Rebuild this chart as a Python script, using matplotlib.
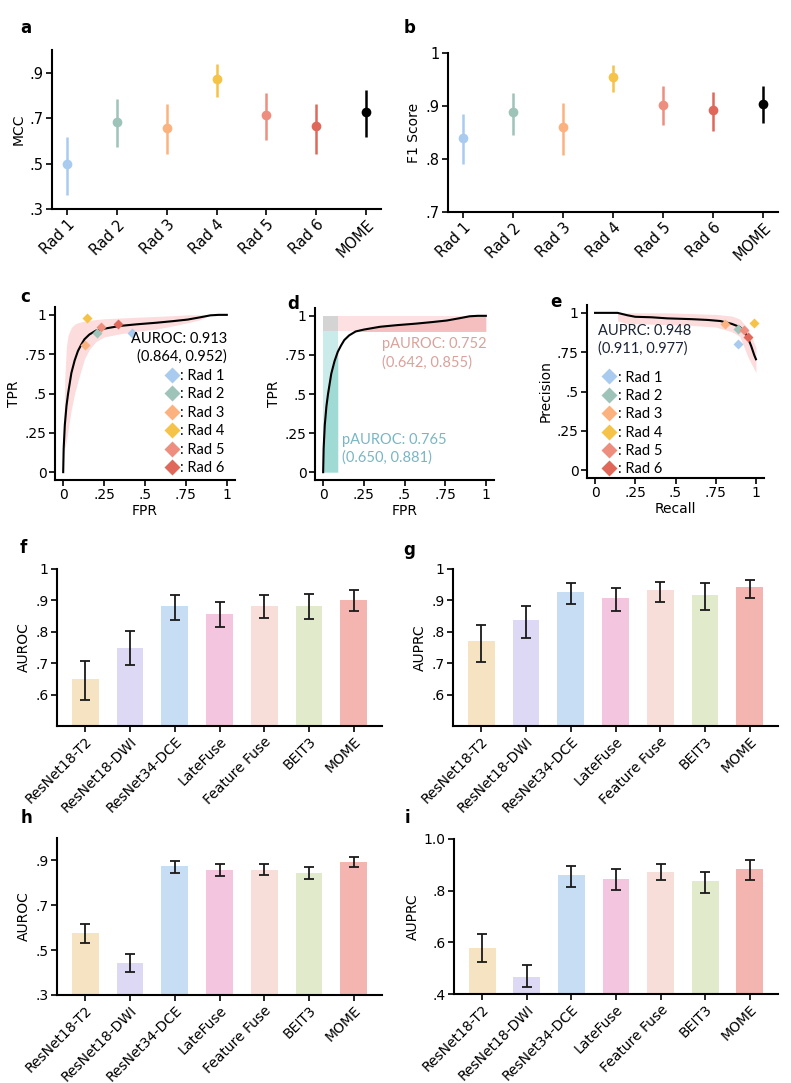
import matplotlib.pyplot as plt
import numpy as np
from matplotlib.ticker import FuncFormatter
from matplotlib.lines import Line2D

W, H = 791, 1083

# panel a / b : reader study
rads = ['Rad 1', 'Rad 2', 'Rad 3', 'Rad 4', 'Rad 5', 'Rad 6', 'MOME']
rad_colors = ['#a9cbef', '#9ec3b9', '#fbb27e', '#f5c347', '#ee8e7e', '#e0685a', '#000000']

mcc = [0.497, 0.685, 0.656, 0.873, 0.712, 0.664, 0.728]
mcc_lo = [0.362, 0.572, 0.543, 0.792, 0.604, 0.544, 0.619]
mcc_hi = [0.619, 0.784, 0.761, 0.939, 0.811, 0.761, 0.824]

f1 = [0.840, 0.888, 0.860, 0.955, 0.902, 0.892, 0.904]
f1_lo = [0.790, 0.845, 0.808, 0.927, 0.864, 0.853, 0.868]
f1_hi = [0.885, 0.925, 0.905, 0.977, 0.938, 0.926, 0.938]

# panel c / d : ROC of MOME + readers
roc_fpr = [0, 0.003, 0.01, 0.02, 0.03, 0.05, 0.07, 0.09, 0.11, 0.13, 0.16, 0.2, 0.25, 0.35, 0.45, 0.57, 0.67, 0.76, 0.84, 0.9, 0.95, 1.0]
roc_tpr = [0, 0.15, 0.3, 0.42, 0.5, 0.63, 0.71, 0.77, 0.81, 0.845, 0.875, 0.9, 0.912, 0.93, 0.94, 0.95, 0.96, 0.97, 0.985, 0.997, 1.0, 1.0]
roc_band_fpr = [0.005, 0.01, 0.02, 0.03, 0.05, 0.07, 0.09, 0.11, 0.13, 0.16, 0.2, 0.25, 0.35, 0.45, 0.57, 0.67, 0.76, 0.84, 0.9]
roc_band_lo = [0.13, 0.15, 0.2, 0.27, 0.4, 0.5, 0.58, 0.65, 0.72, 0.78, 0.83, 0.86, 0.88, 0.895, 0.91, 0.93, 0.95, 0.97, 1.0]
roc_band_hi = [0.3, 0.6, 0.8, 0.87, 0.92, 0.94, 0.95, 0.955, 0.96, 0.965, 0.97, 0.975, 0.98, 0.985, 0.99, 0.995, 1.0, 1.0, 1.0]
rad_fpr = [0.42, 0.207, 0.131, 0.147, 0.233, 0.334]
rad_tpr = [0.885, 0.883, 0.806, 0.983, 0.921, 0.945]

# panel e : PR curve
pr_rec = [0, 0.14, 0.2, 0.25, 0.35, 0.45, 0.6, 0.7, 0.78, 0.85, 0.9, 0.93, 0.95, 0.97, 0.99, 1.0]
pr_prec = [1, 1, 0.985, 0.975, 0.972, 0.965, 0.96, 0.955, 0.948, 0.93, 0.91, 0.88, 0.84, 0.79, 0.73, 0.705]
pr_band_rec = [0.14, 0.2, 0.3, 0.45, 0.6, 0.75, 0.85, 0.9, 0.95, 1.0]
pr_band_lo = [0.95, 0.93, 0.93, 0.925, 0.92, 0.91, 0.88, 0.85, 0.72, 0.62]
pr_band_hi = [1.0, 1.0, 1.0, 1.0, 0.995, 0.99, 0.98, 0.96, 0.9, 0.78]
rad_rec = [0.887, 0.887, 0.809, 0.985, 0.926, 0.948]
rad_prec = [0.804, 0.898, 0.927, 0.933, 0.889, 0.848]

# panel f-i : model comparison
models = ['ResNet18-T2', 'ResNet18-DWI', 'ResNet34-DCE', 'LateFuse', 'Feature Fuse', 'BEIT3', 'MOME']
bar_colors = ['#f5e3c1', '#ddd9f4', '#c7ddf3', '#f4c5df', '#f8ded8', '#e1eacb', '#f4b5b0']

f_auroc = [0.649, 0.748, 0.882, 0.857, 0.882, 0.882, 0.901]
f_lo = [0.584, 0.693, 0.838, 0.815, 0.845, 0.841, 0.865]
f_hi = [0.707, 0.802, 0.916, 0.896, 0.916, 0.920, 0.934]

g_auprc = [0.770, 0.837, 0.926, 0.907, 0.932, 0.916, 0.942]
g_lo = [0.704, 0.781, 0.890, 0.867, 0.895, 0.868, 0.909]
g_hi = [0.823, 0.882, 0.955, 0.940, 0.958, 0.955, 0.964]

h_auroc = [0.576, 0.443, 0.873, 0.859, 0.859, 0.846, 0.895]
h_lo = [0.534, 0.401, 0.846, 0.829, 0.834, 0.815, 0.870]
h_hi = [0.615, 0.483, 0.897, 0.883, 0.886, 0.870, 0.914]

i_auprc = [0.578, 0.465, 0.859, 0.847, 0.874, 0.836, 0.882]
i_lo = [0.524, 0.426, 0.815, 0.804, 0.840, 0.792, 0.840]
i_hi = [0.631, 0.512, 0.895, 0.883, 0.904, 0.873, 0.918]

ANN = ['Lato', 'DejaVu Sans']


def nolead(v, pos=None):
    s = f"{v:g}"
    if s.startswith("0."):
        s = s[1:]
    return s


def add_ax(fig, l, r, b, t):
    return fig.add_axes([l / W, 1 - b / H, (r - l) / W, (b - t) / H])


def style(ax, fs=10):
    for s in ['top', 'right']:
        ax.spines[s].set_visible(False)
    for s in ['left', 'bottom']:
        ax.spines[s].set_linewidth(1.5)
    ax.tick_params(width=1.2, length=4, labelsize=fs, pad=2)


def dot_panel(ax, vals, lo, hi, ylim, ticks, ylabel):
    x = np.arange(len(rads))
    for k in range(len(rads)):
        ax.plot([x[k], x[k]], [lo[k], hi[k]], color=rad_colors[k], lw=1.8, solid_capstyle='butt')
        ax.plot(x[k], vals[k], 'o', color=rad_colors[k], ms=7, mec='none')
    ax.set_xlim(-0.3, 6.3)
    ax.set_ylim(*ylim)
    ax.set_yticks(ticks)
    ax.yaxis.set_major_formatter(FuncFormatter(nolead))
    ax.set_xticks(x)
    ax.set_xticklabels(rads, rotation=45, ha='right', rotation_mode='anchor')
    ax.set_ylabel(ylabel, fontsize=10, labelpad=3)
    style(ax, 10.5)


def bar_panel(ax, vals, lo, hi, ylim, ticks, ylabel, fmt=nolead):
    x = np.arange(len(models))
    vals = np.array(vals)
    ax.bar(x, vals, width=0.6, color=bar_colors)
    ax.errorbar(x, vals, yerr=[vals - np.array(lo), np.array(hi) - vals], fmt='none',
                ecolor='#1a1a1a', elinewidth=1.3, capsize=3.5, capthick=1.3)
    ax.set_xlim(-0.63, 6.63)
    ax.set_ylim(*ylim)
    ax.set_yticks(ticks)
    ax.yaxis.set_major_formatter(FuncFormatter(fmt))
    ax.set_xticks(x)
    ax.set_xticklabels(models, rotation=45, ha='right', rotation_mode='anchor')
    ax.set_ylabel(ylabel, fontsize=10, labelpad=3)
    style(ax, 10)


def quarter_axes(ax, xlabel, ylabel):
    q_ticks = [0, 0.25, 0.5, 0.75, 1]
    ax.set_xlim(-0.05, 1.05)
    ax.set_ylim(-0.05, 1.05)
    ax.set_xticks(q_ticks)
    ax.set_yticks(q_ticks)
    ax.xaxis.set_major_formatter(FuncFormatter(nolead))
    ax.yaxis.set_major_formatter(FuncFormatter(nolead))
    ax.set_xlabel(xlabel, fontsize=10, labelpad=1)
    ax.set_ylabel(ylabel, fontsize=10, labelpad=3)
    style(ax, 10)


fig = plt.figure(figsize=(W / 100, H / 100), dpi=100)

# a
ax = add_ax(fig, 52, 381, 209, 50)
dot_panel(ax, mcc, mcc_lo, mcc_hi, (0.3, 1.0), [0.3, 0.5, 0.7, 0.9], 'MCC')
# b
ax = add_ax(fig, 448, 778, 212, 53)
dot_panel(ax, f1, f1_lo, f1_hi, (0.7, 1.0), [0.7, 0.8, 0.9, 1.0], 'F1 Score')

handles = [Line2D([], [], ls='none', marker='D', color=rad_colors[k], ms=8.5, mec='none') for k in range(6)]
leg_kw = dict(frameon=False, handletextpad=0.0, handlelength=1.2, labelspacing=0.3,
              borderpad=0.2, prop={'family': ANN, 'size': 10.5})

# c
ax = add_ax(fig, 55, 235, 480, 307)
ax.fill_between(roc_band_fpr, roc_band_lo, roc_band_hi, color='#fcdcdc', lw=0)
ax.plot(roc_fpr, roc_tpr, color='black', lw=1.5)
for k in range(6):
    ax.plot(rad_fpr[k], rad_tpr[k], 'D', color=rad_colors[k], ms=5, mec='none')
ax.text(1.0, 0.79, "AUROC: 0.913\n(0.864, 0.952)", ha='right', va='center',
        fontsize=10.5, family=ANN, linespacing=1.3)
ax.legend(handles, [': ' + r for r in rads[:6]], loc='lower right', bbox_to_anchor=(1.0, -0.03), **leg_kw)
quarter_axes(ax, 'FPR', 'TPR')

# d
ax = add_ax(fig, 315, 494, 480, 308)
fpr = np.array(roc_fpr)
tpr = np.array(roc_tpr)
ax.fill_between([0, 0.09], 0, 1, color='#c9ebe9', lw=0)
ax.fill_between(fpr, 0, tpr, where=fpr <= 0.09, color='#9fdad5', lw=0)
ax.fill_between([0.09, 1], 0.9, 1, color='#fde0e1', lw=0)
ax.fill_between(fpr, 0.9, np.clip(tpr, 0.9, 1), where=fpr >= 0.09, color='#f6bfbf', lw=0)
ax.fill_between([0, 0.09], 0.9, 1, color='#d4d4d4', lw=0)
ax.plot(roc_fpr, roc_tpr, color='black', lw=1.5)
ax.text(0.36, 0.76, "pAUROC: 0.752\n(0.642, 0.855)", ha='left', va='center',
        fontsize=10.5, family=ANN, color='#d9a29c', linespacing=1.3)
ax.text(0.115, 0.15, "pAUROC: 0.765\n(0.650, 0.881)", ha='left', va='center',
        fontsize=10.5, family=ANN, color='#79b6c4', linespacing=1.3)
quarter_axes(ax, 'FPR', 'TPR')

# e
ax = add_ax(fig, 587, 764, 478, 305)
ax.fill_between(pr_band_rec, pr_band_lo, pr_band_hi, color='#fcdcdc', lw=0)
ax.plot(pr_rec, pr_prec, color='black', lw=1.5)
for k in range(6):
    ax.plot(rad_rec[k], rad_prec[k], 'D', color=rad_colors[k], ms=5, mec='none')
ax.text(0.02, 0.83, "AUPRC: 0.948\n(0.911, 0.977)", ha='left', va='center',
        fontsize=10.5, family=ANN, color='#1c2433', linespacing=1.3)
ax.legend(handles, [': ' + r for r in rads[:6]], loc='upper left', bbox_to_anchor=(0.02, 0.68), **leg_kw)
quarter_axes(ax, 'Recall', 'Precision')

# f-i
ax = add_ax(fig, 57, 382, 726, 569)
bar_panel(ax, f_auroc, f_lo, f_hi, (0.5, 1.0), [0.6, 0.7, 0.8, 0.9, 1.0], 'AUROC')
ax = add_ax(fig, 453, 778, 726, 569)
bar_panel(ax, g_auprc, g_lo, g_hi, (0.5, 1.0), [0.6, 0.7, 0.8, 0.9, 1.0], 'AUPRC')
ax = add_ax(fig, 57, 382, 995, 838)
bar_panel(ax, h_auroc, h_lo, h_hi, (0.3, 1.0), [0.3, 0.5, 0.7, 0.9], 'AUROC')
ax = add_ax(fig, 454, 778, 994, 839)
bar_panel(ax, i_auprc, i_lo, i_hi, (0.4, 1.0), [0.4, 0.6, 0.8, 1.0], 'AUPRC',
          fmt=lambda v, p: "1.0" if v == 1 else nolead(v))

# panel letters
letters = [('a', 20, 28), ('b', 404, 28), ('c', 20, 297), ('d', 287, 304), ('e', 550, 302),
           ('f', 20, 548), ('g', 403, 550), ('h', 21, 818), ('i', 405, 818)]
for s, px, py in letters:
    fig.text(px / W, 1 - py / H, s, fontsize=12, fontweight='bold', ha='left', va='center')

fig.savefig('out.png', dpi=100)
